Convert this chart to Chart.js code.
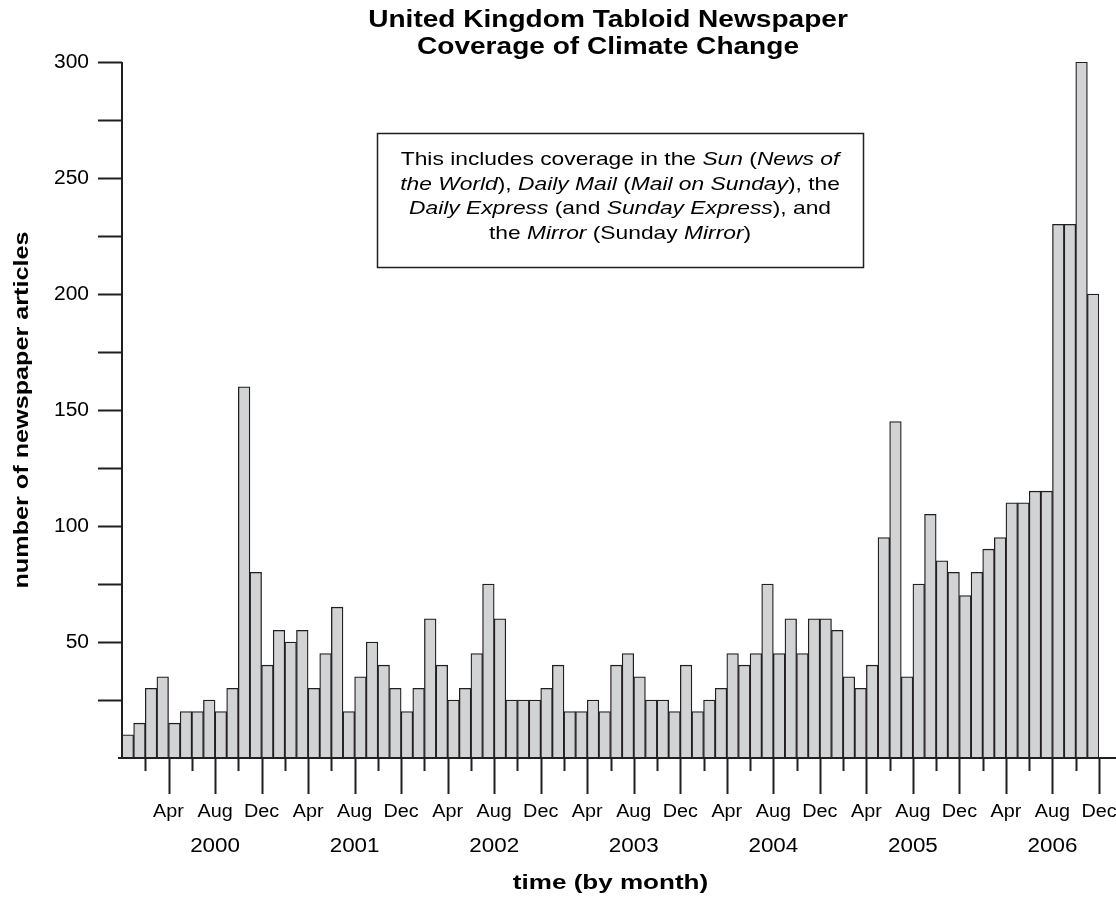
<!DOCTYPE html>
<html>
<head>
<meta charset="utf-8">
<title>UK Tabloid Coverage of Climate Change</title>
<script src="https://cdn.jsdelivr.net/npm/chart.js@4.4.1/dist/chart.umd.min.js"></script>
<style>
  html, body { margin: 0; padding: 0; background: #fff; }
  #wrap { width: 1116px; height: 899px; }
</style>
</head>
<body>
<div id="wrap"><canvas id="tabloidChart" width="1116" height="899"></canvas></div>
<script>
// monthly article counts
var years = ['2000', '2001', '2002', '2003', '2004', '2005', '2006'];
var monthNames = ['Jan', 'Feb', 'Mar', 'Apr', 'May', 'Jun', 'Jul', 'Aug', 'Sep', 'Oct', 'Nov', 'Dec'];
var tickMonths = ['Apr', 'Aug', 'Dec'];
var yTickValues = [25, 50, 75, 100, 125, 150, 175, 200, 225, 250, 275, 300];
var yTickLabels = [50, 100, 150, 200, 250, 300];

var articles2000 = [10, 15, 30, 35, 15, 20, 20, 25, 20, 30, 160, 80];
var articles2001 = [40, 55, 50, 55, 30, 45, 65, 20, 35, 50, 40, 30];
var articles2002 = [20, 30, 60, 40, 25, 30, 45, 75, 60, 25, 25, 25];
var articles2003 = [30, 40, 20, 20, 25, 20, 40, 45, 35, 25, 25, 20];
var articles2004 = [40, 20, 25, 30, 45, 40, 45, 75, 45, 60, 45, 60];
var articles2005 = [60, 55, 35, 30, 40, 95, 145, 35, 75, 105, 85, 80];
var articles2006 = [70, 80, 90, 95, 110, 110, 115, 115, 230, 230, 300, 200];

var articles = [].concat(articles2000, articles2001, articles2002, articles2003,
                         articles2004, articles2005, articles2006);
var labels = [];
years.forEach(function (y) {
    monthNames.forEach(function (m) { labels.push(m + ' ' + y); });
});

var noteLines = [
    [['This includes coverage in the ', false], ['Sun', true], [' (', false], ['News of', true]],
    [['the World', true], ['), ', false], ['Daily Mail', true], [' (', false], ['Mail on Sunday', true], ['), the', false]],
    [['Daily Express', true], [' (and ', false], ['Sunday Express', true], ['), and', false]],
    [['the ', false], ['Mirror', true], [' (Sunday ', false], ['Mirror', true], [')', false]]
];

var INK = '#231f20';
var FAMILY = '"Liberation Sans", Arial, Helvetica, sans-serif';

// the original lettering is a little wider than Arial, so text gets a horizontal stretch
function wideText(ctx, str, x, y, font, align, sx) {
    ctx.save();
    ctx.font = font;
    ctx.textBaseline = 'middle';
    ctx.textAlign = align;
    ctx.translate(x, y);
    ctx.scale(sx, 1);
    ctx.fillText(str, 0, 0);
    ctx.restore();
}

function mixedLine(ctx, parts, cx, y, size, sx) {
    var normal = size + 'px ' + FAMILY;
    var italic = 'italic ' + size + 'px ' + FAMILY;
    var total = 0;
    parts.forEach(function (p) {
        ctx.font = p[1] ? italic : normal;
        total += ctx.measureText(p[0]).width;
    });
    var x = cx - total * sx / 2;
    parts.forEach(function (p) {
        ctx.font = p[1] ? italic : normal;
        var w = ctx.measureText(p[0]).width;
        wideText(ctx, p[0], x, y, ctx.font, 'left', sx);
        x += w * sx;
    });
}

var axesPlugin = {
    id: 'tabloidAxes',
    afterDraw: function (chart) {
        var ctx = chart.ctx;
        var xs = chart.scales.x, ys = chart.scales.y;
        var area = chart.chartArea;
        var y0 = ys.getPixelForValue(0);
        ctx.save();
        ctx.strokeStyle = INK;
        ctx.fillStyle = '#000';
        ctx.lineWidth = 2;

        // y axis line and ticks
        ctx.beginPath();
        ctx.moveTo(area.left, ys.getPixelForValue(300));
        ctx.lineTo(area.left, y0);
        ctx.moveTo(area.left - 4, y0);
        ctx.lineTo(area.left, y0);
        yTickValues.forEach(function (v) {
            var py = Math.round(ys.getPixelForValue(v)) + 0.5;
            ctx.moveTo(area.left - 24, py);
            ctx.lineTo(area.left, py);
        });
        ctx.stroke();
        yTickLabels.forEach(function (v) {
            wideText(ctx, String(v), area.left - 33, ys.getPixelForValue(v), '20px ' + FAMILY, 'right', 1.05);
        });

        // x axis line
        ctx.beginPath();
        ctx.moveTo(area.left - 4, y0);
        ctx.lineTo(chart.width, y0);
        ctx.stroke();

        // x ticks every second month, long ones at Apr / Aug / Dec
        ctx.beginPath();
        for (var i = 2; i <= articles.length; i += 2) {
            var px = Math.round(xs.getPixelForValue(i - 0.5)) + 0.5;
            var len = (i % 4 === 0) ? 36 : 13;
            ctx.moveTo(px, y0);
            ctx.lineTo(px, y0 + len);
        }
        ctx.stroke();
        for (var j = 4; j <= articles.length; j += 4) {
            var mx = xs.getPixelForValue(j - 0.5);
            wideText(ctx, tickMonths[(j / 4 - 1) % 3], mx, 812, '18px ' + FAMILY, 'center', 1.1);
        }
        years.forEach(function (yr, k) {
            var yx = xs.getPixelForValue(k * 12 + 7.5);
            wideText(ctx, yr, yx, 846, '20px ' + FAMILY, 'center', 1.12);
        });

        // axis titles
        wideText(ctx, 'time (by month)', (area.left + area.right) / 2, 883, 'bold 21px ' + FAMILY, 'center', 1.24);
        ctx.save();
        ctx.translate(22, 410);
        ctx.rotate(-Math.PI / 2);
        wideText(ctx, 'number of newspaper articles', 0, 0, 'bold 21px ' + FAMILY, 'center', 1.2);
        ctx.restore();

        // chart title
        wideText(ctx, 'United Kingdom Tabloid Newspaper', 608, 21, 'bold 23px ' + FAMILY, 'center', 1.22);
        wideText(ctx, 'Coverage of Climate Change', 608, 48, 'bold 23px ' + FAMILY, 'center', 1.22);

        // note box
        ctx.lineWidth = 1.5;
        ctx.strokeRect(377.5, 133.5, 486, 134);
        noteLines.forEach(function (line, n) {
            mixedLine(ctx, line, 620, 160 + n * 24.5, 19, 1.2);
        });
        ctx.restore();
    }
};

var chart = new Chart(document.getElementById('tabloidChart').getContext('2d'), {
    type: 'bar',
    data: {
        labels: labels,
        datasets: [{
            data: articles,
            backgroundColor: '#d1d3d4',
            borderColor: INK,
            borderWidth: 1.3,
            categoryPercentage: 1,
            barPercentage: 1
        }]
    },
    options: {
        responsive: false,
        animation: false,
        layout: { padding: { left: 122, top: 62, right: 17, bottom: 141 } },
        plugins: {
            legend: { display: false },
            title: { display: false },
            tooltip: { enabled: false }
        },
        scales: {
            x: { display: false },
            y: { display: false, min: 0, max: 300 }
        }
    },
    plugins: [axesPlugin]
});
</script>
</body>
</html>
